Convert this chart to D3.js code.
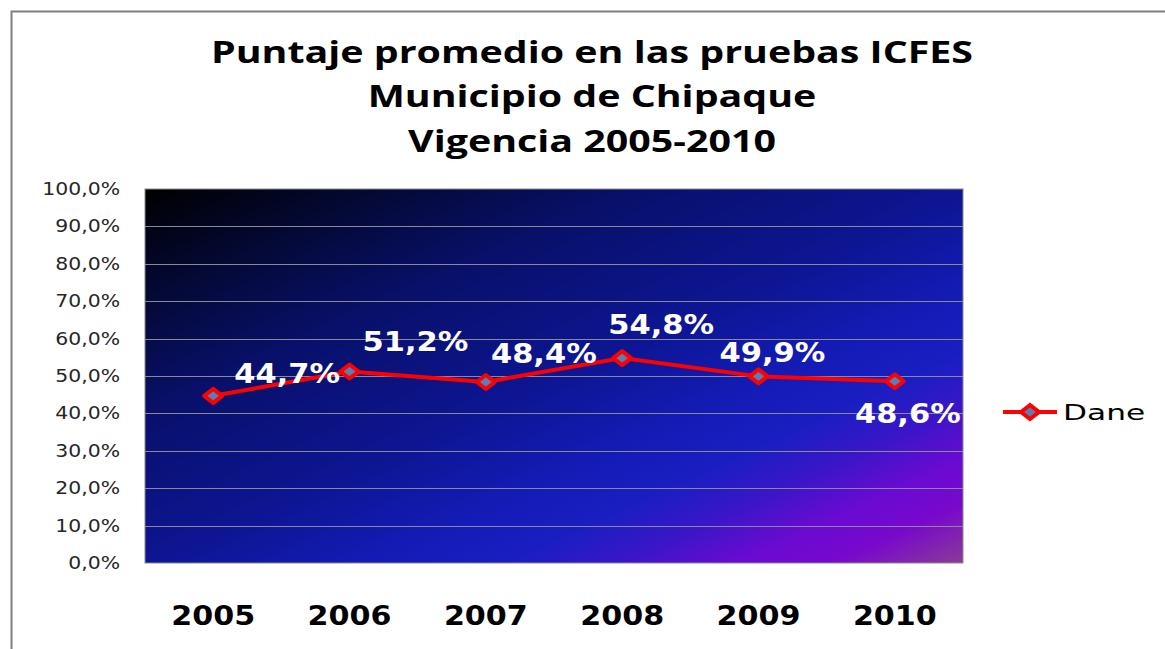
<!DOCTYPE html>
<html><head><meta charset="utf-8">
<script src="https://cdn.jsdelivr.net/npm/d3@7"></script>
<style>html,body{margin:0;padding:0;background:#fff;}svg{display:block;}</style>
</head><body>
<svg id="chart" width="1165" height="649"></svg>
<script>
const titleLines = ["Puntaje promedio en las pruebas ICFES", "Municipio de Chipaque", "Vigencia 2005-2010"];
const categories = ["2005", "2006", "2007", "2008", "2009", "2010"];
const seriesName = "Dane";
const values = [0.447, 0.512, 0.484, 0.548, 0.499, 0.486];
const yTicks = [0, 0.1, 0.2, 0.3, 0.4, 0.5, 0.6, 0.7, 0.8, 0.9, 1.0];

const svg = d3.select("#chart");
const W = 1165, H = 649;
const m = {left: 145, top: 189, right: 963, bottom: 563};

// frame
svg.append("path").attr("d", `M11.5,${H} V11.5 H${W}`).attr("fill","none").attr("stroke","#7f7f7f").attr("stroke-width",2);

// title (source image is horizontally stretched)
const title = svg.append("text").attr("text-anchor","middle")
  .attr("transform","translate(592,0) scale(1.27,1)")
  .attr("font-family","'Open Sans', sans-serif").attr("font-weight","bold").attr("font-size",31).attr("fill","#000");
titleLines.forEach((t,i)=>title.append("tspan").attr("x",0).attr("y",63+i*44.5).text(t));

const x = d3.scaleBand().domain(categories).range([m.left, m.right]);
const y = d3.scaleLinear().domain([0,1]).range([m.bottom, m.top]);

// gradient background
const defs = svg.append("defs");
const g = defs.append("linearGradient").attr("id","bg")
  .attr("x1",0).attr("y1",0).attr("x2",1).attr("y2",1);
[[0,"#000000"],[0.15,"#040936"],[0.3,"#08106a"],[0.5,"#0d1592"],[0.63,"#131bb4"],[0.72,"#1a1ec2"],[0.79,"#3a16c8"],[0.86,"#6a0ad2"],[0.92,"#7808cc"],[1,"#8a3c94"]]
  .forEach(([o,c])=>g.append("stop").attr("offset",o).attr("stop-color",c));
svg.append("rect").attr("x",m.left).attr("y",m.top).attr("width",m.right-m.left).attr("height",m.bottom-m.top)
  .attr("fill","url(#bg)").attr("stroke","#8a8a8a").attr("stroke-width",1);

// grid
svg.append("g").selectAll("line").data(yTicks.slice(1,-1)).join("line")
  .attr("x1",m.left).attr("x2",m.right).attr("y1",d=>Math.round(y(d))+0.5).attr("y2",d=>Math.round(y(d))+0.5)
  .attr("stroke","#8a8a96").attr("stroke-width",1.2);

// y axis
const fmtPct = d => d3.format(".1f")(d*100).replace(".",",") + "%";
const sxY = 1.2;
const yAxis = svg.append("g").attr("transform",`translate(${m.left},0)`)
  .call(d3.axisLeft(y).tickValues(yTicks).tickFormat(fmtPct).tickSize(0));
yAxis.select(".domain").remove();
yAxis.selectAll("text").attr("x", -25/sxY).attr("transform",`scale(${sxY},1)`)
  .attr("font-family","'DejaVu Sans', Verdana, sans-serif").attr("font-size",17).attr("fill","#262626");

// x axis
const sxX = 1.16;
const xAxis = svg.append("g").attr("transform",`translate(0,${m.bottom})`)
  .call(d3.axisBottom(x).tickSize(0));
xAxis.select(".domain").remove();
xAxis.selectAll("text").attr("y",53).attr("dy",0).attr("dominant-baseline","central").attr("transform",`scale(${sxX},1)`)
  .attr("font-family","'DejaVu Sans', Verdana, sans-serif").attr("font-weight","bold").attr("font-size",26).attr("fill","#000");

// line
const cx = d => x(d) + x.bandwidth()/2;
const pts = categories.map((c,i)=>({c, v: values[i]}));
svg.append("path").datum(pts)
  .attr("d", d3.line().x(d=>cx(d.c)).y(d=>y(d.v)))
  .attr("fill","none").attr("stroke","#ff0000").attr("stroke-width",4).attr("stroke-linejoin","round");

const diamondPath = "M-9,0 L0,-7 L9,0 L0,7 Z";
svg.append("g").selectAll("path").data(pts).join("path")
  .attr("d", diamondPath).attr("transform", d=>`translate(${cx(d.c)},${y(d.v)})`)
  .attr("fill","#5b7fb4").attr("stroke","#ff0000").attr("stroke-width",4).attr("stroke-linejoin","round");

// data labels (manually placed in the source chart)
const labelShift = [[74,-22],[66,-30],[58,-28],[39,-33],[14,-24],[13,32]];
const sxL = 1.13;
svg.append("g").selectAll("text").data(pts).join("text")
  .attr("transform",(d,i)=>`translate(${cx(d.c)+labelShift[i][0]},${y(d.v)+labelShift[i][1]}) scale(${sxL},1)`)
  .attr("text-anchor","middle").attr("dominant-baseline","central")
  .attr("font-family","'DejaVu Sans', Verdana, sans-serif").attr("font-weight","bold").attr("font-size",27).attr("fill","#fff")
  .text(d=>fmtPct(d.v));

// legend
const lg = svg.append("g").attr("transform","translate(1003,412)");
lg.append("line").attr("x1",0).attr("x2",54).attr("stroke","#ff0000").attr("stroke-width",4);
lg.append("path").attr("d",diamondPath).attr("transform","translate(27,0)").attr("fill","#5b7fb4").attr("stroke","#ff0000").attr("stroke-width",4);
svg.append("text").attr("transform","translate(1063,412) scale(1.42,1)").attr("x",0).attr("y",0).attr("dominant-baseline","central")
  .attr("font-family","'DejaVu Sans', sans-serif").attr("font-size",22).attr("fill","#000").text(seriesName);
</script>
</body></html>
